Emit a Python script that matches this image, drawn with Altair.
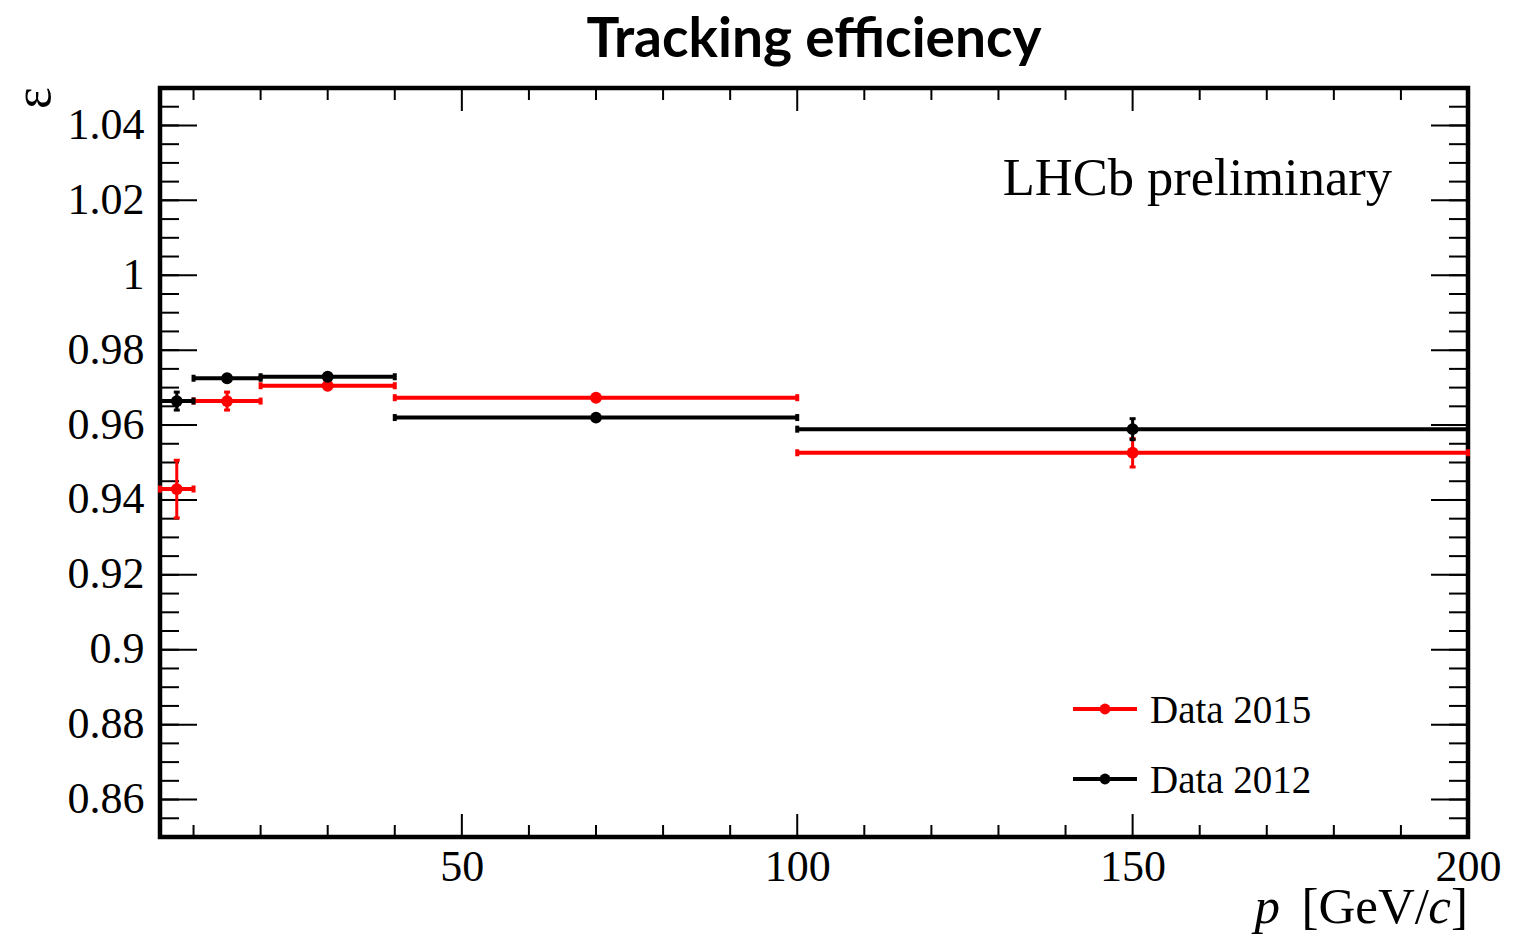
import altair as alt
import pandas as pd

# ---------------- data ----------------
bin_lo = [5, 10, 20, 40, 100]
bin_hi = [10, 20, 40, 100, 200]
p_center = [7.5, 15, 30, 70, 150]

eff_2015 = [0.9429, 0.9664, 0.9705, 0.9673, 0.9526]
err_2015 = [0.0077, 0.0024, 0.0008, 0.0006, 0.0038]

eff_2012 = [0.9664, 0.9725, 0.9729, 0.9620, 0.9589]
err_2012 = [0.0024, 0.0008, 0.0007, 0.0005, 0.0028]

series_names = ["Data 2015", "Data 2012"]
series_colors = ["#ff0000", "#000000"]

y_major = [0.86, 0.88, 0.90, 0.92, 0.94, 0.96, 0.98, 1.00, 1.02, 1.04]
y_minor = [round(0.85 + 0.005 * i, 3) for i in range(1, 40)]
x_major = [50, 100, 150, 200]
x_minor = [10, 20, 30, 40, 60, 70, 80, 90, 110, 120, 130, 140, 160, 170, 180, 190]

W, H = 1308, 749
SERIF = "Liberation Serif"

xs = alt.Scale(domain=[5, 200], nice=False, zero=False)
ys = alt.Scale(domain=[0.85, 1.05], nice=False, zero=False)
xax = alt.Axis(values=x_major, format="d", labelFont=SERIF, labelFontSize=44,
               labelColor="black", labelPadding=8, labelFlush=False, labelOverlap=False,
               grid=False, domain=False, ticks=False)
yax = alt.Axis(values=y_major, format=".2~f", labelFont=SERIF, labelFontSize=44,
               labelColor="black", labelPadding=16, labelFlush=False, labelOverlap=False,
               grid=False, domain=False, ticks=False)


def X(f):
    return alt.X(f"{f}:Q", scale=xs, axis=xax, title=None)


def Y(f):
    return alt.Y(f"{f}:Q", scale=ys, axis=yax, title=None)


def make_df(eff, err):
    return pd.DataFrame({
        "lo": bin_lo, "hi": bin_hi, "p": p_center, "eff": eff,
        "ylo": [e - d for e, d in zip(eff, err)],
        "yhi": [e + d for e, d in zip(eff, err)],
    })


# ---------------- frame ticks (inward, all four sides) ----------------
ymaj_df = pd.DataFrame({"v": y_major})
ymin_df = pd.DataFrame({"v": y_minor})
xmaj_df = pd.DataFrame({"v": x_major})
xmin_df = pd.DataFrame({"v": x_minor})

tk = dict(color="black", strokeWidth=2)
tick_layers = [
    alt.Chart(ymaj_df).mark_rule(**tk).encode(y=Y("v"), x=alt.value(0), x2=alt.value(37)),
    alt.Chart(ymaj_df).mark_rule(**tk).encode(y=Y("v"), x=alt.value(W), x2=alt.value(W - 37)),
    alt.Chart(ymin_df).mark_rule(**tk).encode(y=Y("v"), x=alt.value(0), x2=alt.value(19)),
    alt.Chart(ymin_df).mark_rule(**tk).encode(y=Y("v"), x=alt.value(W), x2=alt.value(W - 19)),
    alt.Chart(xmaj_df).mark_rule(**tk).encode(x=X("v"), y=alt.value(H), y2=alt.value(H - 23)),
    alt.Chart(xmaj_df).mark_rule(**tk).encode(x=X("v"), y=alt.value(0), y2=alt.value(23)),
    alt.Chart(xmin_df).mark_rule(**tk).encode(x=X("v"), y=alt.value(H), y2=alt.value(H - 12)),
    alt.Chart(xmin_df).mark_rule(**tk).encode(x=X("v"), y=alt.value(0), y2=alt.value(12)),
]


# ---------------- data layers ----------------
def series_layers(df, color):
    c = alt.Chart(df)
    return [
        c.mark_rule(color=color, strokeWidth=4).encode(x=X("lo"), x2="hi", y=Y("eff")),
        c.mark_rule(color=color, strokeWidth=3).encode(x=X("p"), y=Y("ylo"), y2="yhi"),
        c.mark_tick(color=color, orient="vertical", size=7, thickness=4, opacity=1).encode(x=X("lo"), y=Y("eff")),
        c.mark_tick(color=color, orient="vertical", size=7, thickness=4, opacity=1).encode(x=X("hi"), y=Y("eff")),
        c.mark_tick(color=color, orient="horizontal", size=6, thickness=3, opacity=1).encode(x=X("p"), y=Y("ylo")),
        c.mark_tick(color=color, orient="horizontal", size=6, thickness=3, opacity=1).encode(x=X("p"), y=Y("yhi")),
        c.mark_circle(color=color, size=140, opacity=1).encode(x=X("p"), y=Y("eff")),
    ]


data_layers = series_layers(make_df(eff_2015, err_2015), series_colors[0]) + \
    series_layers(make_df(eff_2012, err_2012), series_colors[1])

# ---------------- legend ----------------
dummy = pd.DataFrame({"a": [0]})
legend_layers = []
for name, color, ly in zip(series_names, series_colors, [621, 691]):
    d = alt.Chart(dummy)
    legend_layers += [
        d.mark_rule(color=color, strokeWidth=4).encode(x=alt.value(913), x2=alt.value(977), y=alt.value(ly)),
        d.mark_circle(color=color, size=120, opacity=1).encode(x=alt.value(945), y=alt.value(ly)),
        d.mark_text(text=name, font=SERIF, fontSize=39, align="left", baseline="middle", color="black").encode(
            x=alt.value(990), y=alt.value(ly + 2)),
    ]

# ---------------- annotations ----------------
XT = 51
TY = 835
ann = [
    alt.Chart(dummy).mark_text(text="LHCb preliminary", font=SERIF, fontSize=52.5, align="right",
                               baseline="alphabetic", color="black").encode(x=alt.value(1232), y=alt.value(107)),
    # y title (rotated epsilon)
    alt.Chart(dummy).mark_text(text="ε", font=SERIF, fontSize=52, angle=270, align="center",
                               baseline="middle", color="black").encode(x=alt.value(-126), y=alt.value(10)),
    # x title: p [GeV/c]
    alt.Chart(dummy).mark_text(text="]", font=SERIF, fontSize=XT, align="right",
                               baseline="alphabetic", color="black").encode(x=alt.value(W), y=alt.value(TY)),
    alt.Chart(dummy).mark_text(text="c", font=SERIF, fontSize=XT, fontStyle="italic", align="right",
                               baseline="alphabetic", color="black").encode(x=alt.value(W - 17), y=alt.value(TY)),
    alt.Chart(dummy).mark_text(text="[GeV/", font=SERIF, fontSize=XT, align="right",
                               baseline="alphabetic", color="black").encode(x=alt.value(W - 39), y=alt.value(TY)),
    alt.Chart(dummy).mark_text(text="p", font=SERIF, fontSize=XT, fontStyle="italic", align="right",
                               baseline="alphabetic", color="black").encode(x=alt.value(1120), y=alt.value(TY)),
]

chart = alt.layer(*tick_layers, *data_layers, *legend_layers, *ann).properties(
    width=W, height=H,
    background="white",
    title=alt.TitleParams("Tracking efficiency", font="Lato", fontWeight="bold", fontSize=55,
                          anchor="middle", color="black", offset=18),
    autosize=alt.AutoSizeParams(type="none"),
    padding={"left": 160, "top": 88, "right": 45, "bottom": 101},
).configure_view(stroke="black", strokeWidth=4.5)

chart.save("out.html", embed_options={"renderer": "svg", "actions": False})
